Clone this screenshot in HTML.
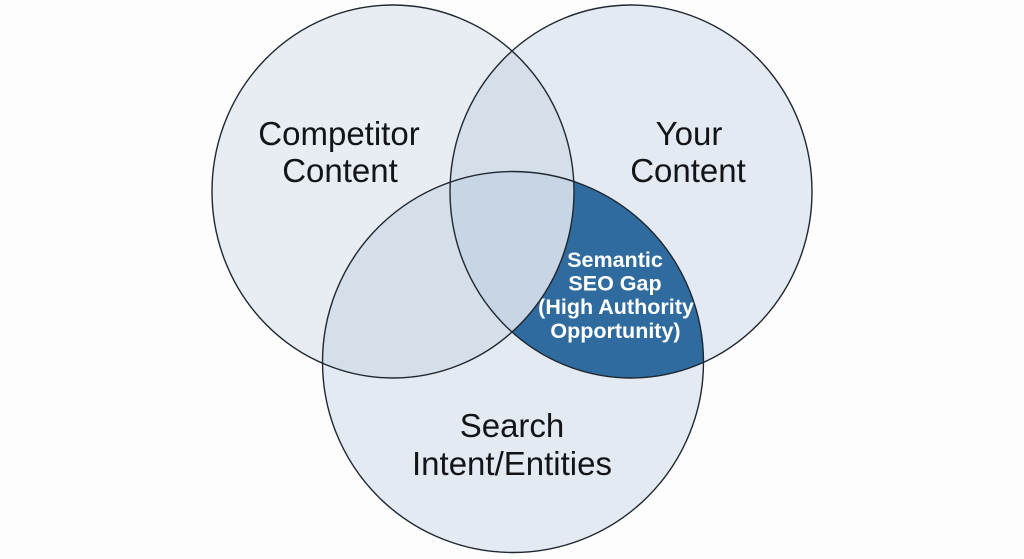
<!DOCTYPE html>
<html>
<head>
<meta charset="utf-8">
<style>
  html, body { margin:0; padding:0; background:#fdfdfd; }
  body { width:1024px; height:559px; overflow:hidden; }
  svg { display:block; }
  .lbl { font-family:"Liberation Sans", Arial, sans-serif; font-size:33px; fill:#121417; }
  .gap { font-family:"Liberation Sans", Arial, sans-serif; font-size:21.5px; font-weight:bold; fill:#ffffff; }
</style>
</head>
<body>
<svg width="1024" height="559" viewBox="0 0 1024 559" xmlns="http://www.w3.org/2000/svg">
  <defs>
    <clipPath id="clipRight">
      <ellipse cx="631" cy="191.5" rx="181" ry="186.5"/>
    </clipPath>
    <mask id="gapMask" maskUnits="userSpaceOnUse" x="0" y="0" width="1024" height="559">
      <rect x="0" y="0" width="1024" height="559" fill="black"/>
      <circle cx="513" cy="362" r="190.5" fill="white"/>
      <ellipse cx="393" cy="191.5" rx="181" ry="186.5" fill="black"/>
    </mask>
  </defs>

  <rect x="0" y="0" width="1024" height="559" fill="#fdfdfd"/>

  <ellipse cx="393" cy="191.5" rx="181" ry="186.5" fill="#a9bfd4" fill-opacity="0.25"/>
  <ellipse cx="631" cy="191.5" rx="181" ry="186.5" fill="#a9bfd4" fill-opacity="0.29"/>
  <circle cx="513" cy="362" r="190.5" fill="#a9bfd4" fill-opacity="0.29"/>

  <g clip-path="url(#clipRight)">
    <rect x="0" y="0" width="1024" height="559" fill="#2f6b9e" mask="url(#gapMask)"/>
  </g>

  <ellipse cx="393" cy="191.5" rx="181" ry="186.5" fill="none" stroke="#1f2730" stroke-width="1.4"/>
  <ellipse cx="631" cy="191.5" rx="181" ry="186.5" fill="none" stroke="#1f2730" stroke-width="1.4"/>
  <circle cx="513" cy="362" r="190.5" fill="none" stroke="#1f2730" stroke-width="1.4"/>

  <text class="lbl" x="339" y="145" text-anchor="middle">Competitor</text>
  <text class="lbl" x="340" y="182" text-anchor="middle">Content</text>

  <text class="lbl" x="689" y="145" text-anchor="middle">Your</text>
  <text class="lbl" x="688" y="182" text-anchor="middle">Content</text>

  <text class="lbl" x="512" y="437" text-anchor="middle">Search</text>
  <text class="lbl" x="512" y="475" text-anchor="middle">Intent/Entities</text>

  <text class="gap" x="615" y="267" text-anchor="middle">Semantic</text>
  <text class="gap" x="615" y="290.5" text-anchor="middle">SEO Gap</text>
  <text class="gap" x="616" y="314" text-anchor="middle">(High Authority</text>
  <text class="gap" x="615.5" y="338" text-anchor="middle">Opportunity)</text>
</svg>
</body>
</html>
